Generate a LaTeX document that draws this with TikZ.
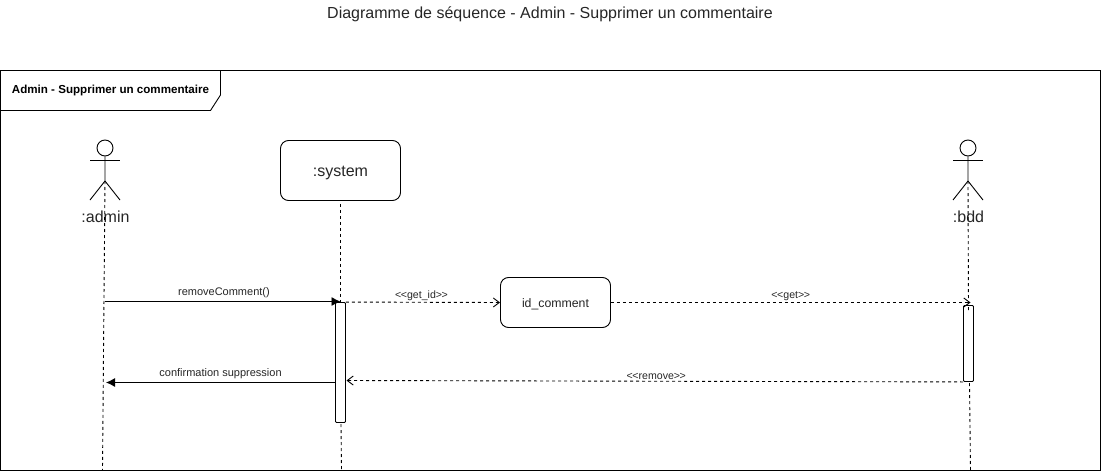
\documentclass[tikz,border=0pt]{standalone}
\usepackage{fontspec}
\setmainfont{Liberation Sans}
\usetikzlibrary{arrows.meta, positioning}

\begin{document}
\begin{tikzpicture}[
    x=1pt, y=-1pt,
    line/.style={draw=black, line width=0.9pt},
    box/.style={rectangle, line, fill=white, align=center, inner sep=0pt, rounded corners=8pt, font=\fontsize{16}{18}\selectfont, text=black!85},
    activation/.style={rectangle, line, fill=white, inner sep=0pt, minimum width=10pt, rounded corners=1pt},
    lifeline/.style={line, dash pattern=on 3pt off 3pt},
    call/.style={line, -{Latex[length=9pt, width=9pt]}},
    reply/.style={line, dash pattern=on 3pt off 3pt, -{Straight Barb[length=6pt, width=9pt]}},
    msg/.style={inner sep=0pt, text=black!85, font=\fontsize{11}{13}\selectfont},
    stereo/.style={inner sep=0pt, text=black!85, font=\fontsize{10.6}{13}\selectfont},
    actorname/.style={inner sep=0pt, text=black!85, font=\fontsize{16}{18}\selectfont},
    stickman/.pic={
        \node[circle, line, inner sep=0pt, minimum size=16pt] (-head) at (0,0) {};
        \draw[line] (-head.south) -- (0,33) -- (-15,52);
        \draw[line] (0,33) -- (15,52);
        \draw[line] (-15,12) -- (15,12);
        \coordinate (-hip) at (0,33);
    }
]
\useasboundingbox (0,0) rectangle (1101,474);

% Title and frame
\node[inner sep=0pt, font=\fontsize{16}{18}\selectfont, text=black!85] (title) at (550,14) {Diagramme de séquence - Admin - Supprimer un commentaire};
\node[rectangle, line, inner sep=0pt, minimum width=1100pt, minimum height=400pt] (frame) at (550.5,270.5) {};
\draw[line] (220.5,70.5) -- (220.5,95) -- (210.5,110.5) -- (0.5,110.5);
\node[inner sep=0pt, font=\bfseries\fontsize{11.6}{13}\selectfont] (tab) at (110.5,90.5) {Admin - Supprimer un commentaire};

% Participants
\pic (admin) at (105,148) {stickman};
\pic (bdd) at (968,148) {stickman};
\node[actorname] (adminname) at (105.5,217) {:admin};
\node[actorname] (bddname) at (968.5,217) {:bdd};
\node[box, minimum width=120pt, minimum height=60pt, text height=13pt, text depth=1pt] (system) at (340.5,170.5) {:system};
\node[box, minimum width=110pt, minimum height=50pt, text height=11pt, text depth=0.6pt, font=\fontsize{12.3}{14}\selectfont] (idcomment) at (555.5,302.5) {id\_comment};

% Lifeline ends
\coordinate (adminend) at (102.5,470);
\coordinate (systemend) at (341.5,470);
\coordinate (bddend) at (970.5,470);
\coordinate (bddin) at (968.5,311);
\coordinate (bddout) at (969.5,383);
\coordinate (systemout) at (341,424);
\coordinate (adminin) at (105,301.5);
\coordinate (adminback) at (106,382.5);
\coordinate (systemback) at (346.5,380.5);
\coordinate (bddget) at (970.5,302.5);

% Activations
\node[activation, minimum height=120pt] (systemact) at (340.5,362.5) {};
\node[activation, minimum height=76pt] (bddact) at (968.5,343.5) {};

% Lifelines
\draw[lifeline] (admin-hip) -- (adminend);
\draw[lifeline] (system.south) ++(0,3) -- (systemact.north);
\draw[lifeline] (systemout) -- (systemend);
\draw[lifeline] (bdd-hip) -- (bddin);
\draw[lifeline] (bddout) -- (bddend);

% Messages
\draw[call] (adminin) -- node[msg, pos=0.505, above=3pt] (removemsg) {removeComment()} (systemact.north |- adminin);
\draw[reply] (systemact.north east) -- node[stereo, midway, above=1.5pt, xshift=-1.5pt] (getidmsg) {<\kern-0.5pt<get\_id>\kern-0.5pt>} (idcomment.west);
\draw[reply] (idcomment.east) -- node[stereo, midway, above=1.5pt] (getmsg) {<\kern-0.5pt<get>\kern-0.5pt>} (bddget);
\draw[reply] (bddact.south west) -- node[stereo, midway, above=1.5pt, xshift=1.5pt] (removemsg2) {<\kern-0.5pt<remove>\kern-0.5pt>} (systemback);
\draw[call] (systemact.west |- adminback) -- node[msg, midway, above=3pt] (confirmmsg) {confirmation suppression} (adminback);

\end{tikzpicture}
\end{document}
